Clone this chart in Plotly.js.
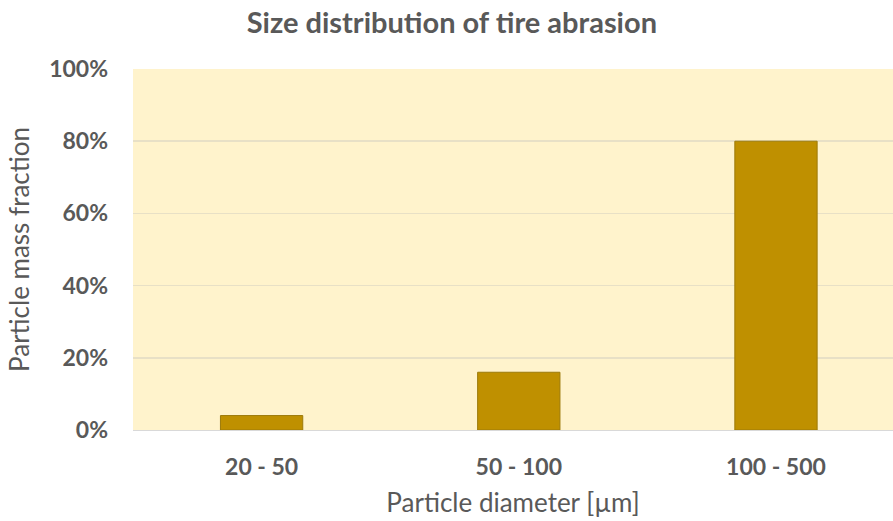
<!DOCTYPE html>
<html>
<head>
<meta charset="utf-8">
<script src="https://cdn.plot.ly/plotly-3.0.1.min.js"></script>
<style>
  html, body { margin: 0; padding: 0; background: #ffffff; }
  #chart { width: 893px; height: 521px; }
</style>
</head>
<body>
<div id="chart"></div>
<script>
// Particle size classes (µm) and their mass fractions
const sizeClasses = ["20 - 50", "50 - 100", "100 - 500"];
const massFraction = [0.04, 0.16, 0.80];
const yTickValues = [0, 0.2, 0.4, 0.6, 0.8, 1.0];
const yTickLabels = ["0%", "20%", "40%", "60%", "80%", "100%"];

const FONT = "Lato, 'Open Sans', 'DejaVu Sans', sans-serif";
const GREY = "#595959";

const trace = {
  type: "bar",
  x: sizeClasses,
  y: massFraction,
  marker: {
    color: "#BF9000",
    line: { color: "#9C7A0A", width: 1 }
  },
  hoverinfo: "skip"
};

const layout = {
  width: 893,
  height: 521,
  margin: { l: 133, r: 0, t: 69, b: 91, pad: 0 },
  paper_bgcolor: "#ffffff",
  plot_bgcolor: "#FFF3CC",
  bargap: 0.68,
  showlegend: false,
  title: {
    text: "<b>Size distribution of tire abrasion</b>",
    x: 0.506,
    xanchor: "center",
    y: 0.956,
    yanchor: "middle",
    font: { family: FONT, size: 29, color: GREY }
  },
  xaxis: {
    type: "category",
    range: [-0.5, 2.455],
    showgrid: false,
    showline: true,
    linecolor: "#D9D9D9",
    linewidth: 1,
    ticks: "",
    tickfont: { family: FONT, size: 23, color: GREY, weight: "bold" },
    ticklabelstandoff: 16,
    title: {
      text: "Particle diameter [µm]",
      font: { family: FONT, size: 26, color: GREY },
      standoff: 15
    }
  },
  yaxis: {
    range: [0, 1.0],
    tickvals: yTickValues,
    ticktext: yTickLabels,
    showgrid: true,
    gridcolor: "#E8E0C6",
    gridwidth: 1.5,
    zeroline: false,
    showline: false,
    ticks: "",
    ticklabelstandoff: 24,
    tickfont: { family: FONT, size: 23, color: GREY, weight: "bold" },
    title: {
      text: "Particle mass fraction",
      font: { family: FONT, size: 26, color: GREY },
      standoff: 12
    }
  }
};

Plotly.newPlot("chart", [trace], layout, { displayModeBar: false, staticPlot: true });
</script>
</body>
</html>
